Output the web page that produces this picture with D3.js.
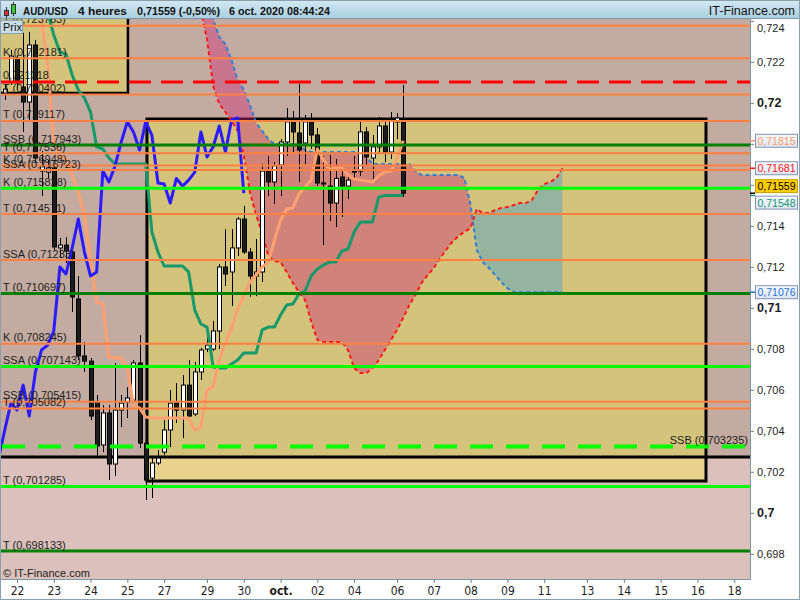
<!DOCTYPE html>
<html><head><meta charset="utf-8">
<script src="https://cdn.jsdelivr.net/npm/d3@7/dist/d3.min.js"></script>
<style>html,body{margin:0;padding:0;background:#fff;} svg{display:block;font-family:"Liberation Sans",Arial,sans-serif;}</style>
</head><body>
<svg id="chart" width="800" height="600"></svg>
<script>
// ---------- DATA ----------
const dayLabels    = ["21","22","23","24","25","27","28","29","30","oct.","02","04","05","06","07","08","09","11","12","13","14","15","16","18"];
const dayBarCounts = [6,6,6,6,6,1,6,6,6,6,6,1,6,6,6,6,6,1,6,6,6,6,6,1];
const hiddenDayLabels = ["21","28","05","12"];
const firstDayIndex = -6;

const yTicks = [0.698,0.700,0.702,0.704,0.706,0.708,0.710,0.712,0.714,0.716,0.718,0.720,0.722,0.724];

// candles: bar index starts at candleStart (bar 0 = 22 sept, first 4h bar)
const candleStart = -2;
const open  = [0.72048,0.72102,0.72214,0.72077,0.72004,0.72282,0.71667,0.71662,0.71682,0.71292,0.71306,0.71272,0.71043,0.70765,0.70740,0.70540,0.70331,0.70487,0.70238,0.70501,0.70540,0.70550,0.70731,0.70340,0.70169,0.70243,0.70296,0.70404,0.70535,0.70501,0.70623,0.70482,0.70687,0.70799,0.70799,0.70887,0.71199,0.71175,0.71292,0.71433,0.71272,0.71155,0.71175,0.71667,0.71614,0.71697,0.71809,0.71907,0.71853,0.71804,0.71907,0.71843,0.71609,0.71594,0.71511,0.71638,0.71594,0.71667,0.71667,0.71858,0.71731,0.71785,0.71887,0.71760,0.71907,0.71907];
const high  = [0.72087,0.72258,0.72233,0.72341,0.72346,0.72307,0.71765,0.71721,0.71697,0.71341,0.71345,0.71287,0.71155,0.70833,0.70755,0.70575,0.70526,0.70526,0.70731,0.70575,0.70613,0.70745,0.70867,0.70355,0.70272,0.70306,0.70452,0.70599,0.70633,0.70672,0.70745,0.70736,0.70804,0.70867,0.70936,0.71214,0.71384,0.71384,0.71443,0.71497,0.71292,0.71336,0.71702,0.71741,0.71711,0.71823,0.71975,0.71960,0.72092,0.71941,0.71950,0.71877,0.71741,0.71746,0.71726,0.71667,0.71648,0.71741,0.71907,0.71882,0.71843,0.71931,0.71926,0.71955,0.71950,0.72087];
const low   = [0.72014,0.72087,0.72063,0.71858,0.71907,0.71711,0.71545,0.71631,0.71282,0.71243,0.71219,0.70980,0.70745,0.70687,0.70452,0.70272,0.70296,0.70160,0.70179,0.70418,0.70462,0.70535,0.70316,0.70062,0.70072,0.70233,0.70282,0.70321,0.70438,0.70365,0.70462,0.70472,0.70648,0.70784,0.70789,0.70799,0.71106,0.71009,0.71253,0.71262,0.71053,0.71057,0.71126,0.71545,0.71506,0.71545,0.71741,0.71760,0.71614,0.71702,0.71775,0.71594,0.71306,0.71423,0.71394,0.71443,0.71531,0.71628,0.71643,0.71692,0.71628,0.71750,0.71711,0.71726,0.71823,0.71540];
const close = [0.72067,0.72228,0.72097,0.72004,0.72282,0.71731,0.71692,0.71682,0.71297,0.71306,0.71277,0.71053,0.70765,0.70740,0.70472,0.70326,0.70487,0.70238,0.70501,0.70535,0.70560,0.70731,0.70340,0.70160,0.70243,0.70267,0.70404,0.70535,0.70501,0.70623,0.70472,0.70687,0.70794,0.70818,0.70887,0.71199,0.71165,0.71292,0.71433,0.71272,0.71155,0.71175,0.71667,0.71614,0.71692,0.71809,0.71907,0.71858,0.71770,0.71907,0.71843,0.71609,0.71604,0.71511,0.71631,0.71594,0.71623,0.71662,0.71858,0.71736,0.71785,0.71887,0.71760,0.71916,0.71926,0.71559];

const tenkanStart = 3;
const tenkan = [0.72477,0.72409,0.72185,0.71819,0.71736,0.71731,0.71648,0.71565,0.71453,0.71223,0.71028,0.71019,0.70760,0.70755,0.70755,0.70706,0.70526,0.70511,0.70467,
  0.70462,0.70462,0.70462,0.70462,0.70462,0.70462,0.70462,
  0.70404,0.70418,0.70599,0.70613,0.70745,0.70828,0.70901,0.70994,0.71057,0.71126,0.71160,0.71199,0.71223,0.71331,0.71428,0.71482,0.71487,0.71555,0.71589,0.71623,0.71775,0.71721,0.71677,0.71682,0.71682,0.71648,0.71628,0.71623,0.71619,0.71614,0.71643,0.71662,0.71667,0.71726,0.71815];

const kijunStart = 4;
const kijun = [0.72502,0.72443,0.72331,0.72248,0.72238,0.72136,0.72063,0.72024,0.71955,0.71785,0.71775,0.71731,
  0.71702,0.71702,0.71702,0.71702,0.71702,0.71702,
  0.71370,0.71272,0.71204,0.71204,0.71204,0.71204,0.71175,
  0.70989,0.70921,0.70906,0.70711,0.70706,0.70706,0.70726,0.70745,
  0.70779,0.70779,0.70779,
  0.70892,0.70906,0.70906,0.70965,0.71014,0.71019,0.71067,0.71082,0.71155,0.71189,0.71209,0.71223,0.71223,0.71277,0.71287,0.71370,
  0.71419,0.71419,0.71419,0.71540,0.71548,0.71548,0.71548,0.71548];

const senkouStart = 30;
const senkouA = [0.72453,0.72311,0.72082,0.71994,0.71955,0.71911,0.71863,0.71746,0.71565,0.71453,0.71365,0.71253,0.71228,0.71223,0.71175,0.71121,0.71077,0.71038,0.70931,0.70843,
  0.70833,0.70833,0.70833,0.70833,
  0.70794,0.70706,0.70682,0.70682,0.70706,0.70745,0.70794,0.70843,0.70892,0.70950,0.71014,0.71062,0.71121,0.71160,0.71194,0.71243,0.71282,0.71321,0.71350,0.71370,0.71389,0.71482,0.71462,0.71462,0.71477,0.71487,0.71492,0.71501,0.71511,0.71511,0.71526,0.71575,0.71604,0.71614,0.71633,0.71681];
const senkouB = [0.72550,0.72477,0.72409,0.72321,0.72287,0.72209,0.72111,0.72063,0.71989,0.71902,0.71863,0.71823,
  0.71799,0.71799,0.71799,0.71799,0.71799,0.71770,
  0.71760,0.71760,0.71760,0.71760,0.71760,0.71760,0.71760,0.71760,0.71760,0.71736,
  0.71702,0.71702,0.71702,0.71702,0.71702,0.71702,0.71702,0.71667,
  0.71648,0.71648,0.71648,0.71648,0.71648,0.71648,0.71648,0.71633,
  0.71501,0.71282,0.71223,0.71194,0.71160,0.71126,0.71096,
  0.71076,0.71076,0.71076,0.71076,0.71076,0.71076,0.71076,0.71076,0.71076];

// horizontal levels
const levelValues = [0.723763,0.722181,0.721018,0.720402,0.719117,0.717943,0.717536,0.716948,0.716723,0.715828,0.714571,0.71233,0.710697,0.708245,0.707143,0.705415,0.705082,0.703235,0.701285,0.698133];
const levelLabels = ["T (0,723763)","K (0,722181)","0,721018","T (0,720402)","T (0,719117)","SSB (0,717943)","T (0,717536)","K (0,716948)","SSA (0,716723)","K (0,715828)","T (0,714571)","SSA (0,71233)","T (0,710697)","K (0,708245)","SSA (0,707143)","SSB (0,705415)","T (0,705082)","SSB (0,703235)","T (0,701285)","T (0,698133)"];
const levelKinds  = ["orange","orange","reddash","orange","orange","dkgreen","orange","orange","orange","green","orange","orange","dkgreen","orange","green","orange","orange","greendash","green","dkgreen"];

// drawn zones (bar index / price anchors)
const zoneTopLeft = {i1: 18.1, p0: 0.72048};
const zoneBox = {i0: 21.2, i1: 112.4, p0: 0.70155, p1: 0.71921};
const zoneUpperBottom = 0.70272;

// right axis value boxes
const boxValues = [0.71815,0.71681,0.71559,0.71548,0.71076];
const boxTextColors = ["#ff9a66","#ff1010","#000000","#13936b","#1f73d6"];
const boxFills = ["light","light","gold","light","light"];

// ---------- CHART ----------
const PL=0, PR=750, PT=19, PB=579;
const svg = d3.select("#chart");
const x = d3.scaleLinear().domain([-2.773, 119.58]).range([PL, PR]);
const y = d3.scaleLinear().domain([0.69677, 0.72409]).range([PB, PT]);

const defs = svg.append("defs");
defs.append("clipPath").attr("id","plotclip").append("rect").attr("x",PL).attr("y",PT).attr("width",PR-PL).attr("height",PB-PT);
const tg = defs.append("linearGradient").attr("id","titlegrad").attr("x1",0).attr("x2",0).attr("y1",0).attr("y2",1);
tg.append("stop").attr("offset","0%").attr("stop-color","#d4e9f3");
tg.append("stop").attr("offset","100%").attr("stop-color","#a8cee1");
const bg = defs.append("linearGradient").attr("id","boxgrad").attr("x1",0).attr("x2",0).attr("y1",0).attr("y2",1);
bg.append("stop").attr("offset","0%").attr("stop-color","#f7f9fd");
bg.append("stop").attr("offset","100%").attr("stop-color","#dde5f2");

svg.append("rect").attr("width",800).attr("height",600).attr("fill","#ffffff");

const g = svg.append("g").attr("clip-path","url(#plotclip)");
// backgrounds
g.append("rect").attr("x",PL).attr("y",PT).attr("width",PR-PL).attr("height",PB-PT).attr("fill","#dbc0bb");
g.append("rect").attr("x",PL).attr("y",PT).attr("width",PR-PL).attr("height",y(zoneUpperBottom)-PT).attr("fill","#c4aba1");
g.append("rect").attr("x",PL).attr("y",PT).attr("width",x(zoneTopLeft.i1)-PL).attr("height",y(zoneTopLeft.p0)-PT).attr("fill","#d3c37b");
g.append("rect").attr("x",x(zoneBox.i0)).attr("y",y(zoneBox.p1)).attr("width",x(zoneBox.i1)-x(zoneBox.i0)).attr("height",y(zoneUpperBottom)-y(zoneBox.p1)).attr("fill","#d3c37b");
g.append("rect").attr("x",x(zoneBox.i0)).attr("y",y(zoneUpperBottom)).attr("width",x(zoneBox.i1)-x(zoneBox.i0)).attr("height",y(zoneBox.p0)-y(zoneUpperBottom)).attr("fill","#e9d28b");

// borders
g.append("line").attr("x1",PL).attr("x2",PR).attr("y1",y(zoneUpperBottom)).attr("y2",y(zoneUpperBottom)).attr("stroke","#000").attr("stroke-width",3);
g.append("path").attr("d",`M${PL-5},${y(zoneTopLeft.p0)}H${x(zoneTopLeft.i1)}V${PT-5}`).attr("fill","none").attr("stroke","#000").attr("stroke-width",2.5);
g.append("rect").attr("x",x(zoneBox.i0)).attr("y",y(zoneBox.p1)).attr("width",x(zoneBox.i1)-x(zoneBox.i0)).attr("height",y(zoneBox.p0)-y(zoneBox.p1)).attr("fill","none").attr("stroke","#000").attr("stroke-width",3);

// cloud
const cloud = senkouA.map((a,k)=>({i: senkouStart+k, a, b: senkouB[k]}));
const areaAB = d3.area().x(d=>x(d.i)).y0(d=>y(d.a)).y1(d=>y(d.b));
const aboveA = d3.area().x(d=>x(d.i)).y0(d=>y(d.a)).y1(()=>-50);
const belowA = d3.area().x(d=>x(d.i)).y0(d=>y(d.a)).y1(()=>700);
defs.append("clipPath").attr("id","clipAbove").append("path").attr("d",aboveA(cloud));
defs.append("clipPath").attr("id","clipBelow").append("path").attr("d",belowA(cloud));
g.append("path").attr("d",areaAB(cloud)).attr("fill","rgba(208,44,118,0.42)").attr("clip-path","url(#clipAbove)");
g.append("path").attr("d",areaAB(cloud)).attr("fill","rgba(85,165,198,0.5)").attr("clip-path","url(#clipBelow)");
const lineA = d3.line().x(d=>x(d.i)).y(d=>y(d.a));
const lineB = d3.line().x(d=>x(d.i)).y(d=>y(d.b));
g.append("path").attr("d",lineB(cloud)).attr("fill","none").attr("stroke","#2f7fd8").attr("stroke-width",2).attr("stroke-dasharray","4,3");
g.append("path").attr("d",lineA(cloud)).attr("fill","none").attr("stroke","#ff1a1a").attr("stroke-width",2).attr("stroke-dasharray","4,3");

// candles
const candles = open.map((o,k)=>({i: candleStart+k, o, h: high[k], l: low[k], c: close[k]}));
const cg = g.append("g");
cg.selectAll("line.w").data(candles).join("line").attr("class","w")
  .attr("x1",d=>Math.round(x(d.i))+0.5).attr("x2",d=>Math.round(x(d.i))+0.5)
  .attr("y1",d=>y(d.h)).attr("y2",d=>y(d.l)).attr("stroke","#000").attr("stroke-width",1);
cg.selectAll("rect.b").data(candles).join("rect").attr("class","b")
  .attr("x",d=>Math.round(x(d.i))-1.5).attr("width",4)
  .attr("y",d=>y(Math.max(d.o,d.c)))
  .attr("height",d=>Math.max(1, y(Math.min(d.o,d.c))-y(Math.max(d.o,d.c))))
  .attr("fill",d=>d.c>=d.o?"#ffffff":"#1c1c1c").attr("stroke","#000").attr("stroke-width",1);

// indicator lines
const ln = d3.line().x(d=>x(d.i)).y(d=>y(d.v));
const kij = kijun.map((v,k)=>({i:kijunStart+k, v}));
const ten = tenkan.map((v,k)=>({i:tenkanStart+k, v}));
const chi = close.map((v,k)=>({i:candleStart+k-26, v}));
g.append("path").attr("d",ln(kij)).attr("fill","none").attr("stroke","#17996b").attr("stroke-width",3).attr("stroke-linejoin","round");
g.append("path").attr("d",ln(ten)).attr("fill","none").attr("stroke","#ffa070").attr("stroke-width",3).attr("stroke-linejoin","round");
g.append("path").attr("d",ln(chi)).attr("fill","none").attr("stroke","#2a1cff").attr("stroke-width",3).attr("stroke-linejoin","round");

// horizontal levels
const styles = {
  orange:{c:"#ff8040", w:2},
  dkgreen:{c:"#008000", w:3},
  green:{c:"#00ff00", w:3},
  reddash:{c:"#ff0000", w:3, d:"22,10", x0:1},
  greendash:{c:"#00ff00", w:4, d:"23,13", x0:2}
};
const levels = levelValues.map((v,k)=>({v, label: levelLabels[k], kind: levelKinds[k]}));
g.selectAll("line.lv").data(levels).join("line").attr("class","lv")
  .attr("x1",d=>styles[d.kind].x0||PL).attr("x2",PR)
  .attr("y1",d=>y(d.v)).attr("y2",d=>y(d.v))
  .attr("stroke",d=>styles[d.kind].c).attr("stroke-width",d=>styles[d.kind].w)
  .attr("stroke-dasharray",d=>styles[d.kind].d||null);
g.selectAll("text.lv").data(levels).join("text").attr("class","lv")
  .attr("x",d=>d.kind==="greendash"?PR-2:3)
  .attr("text-anchor",d=>d.kind==="greendash"?"end":"start")
  .attr("y",d=>y(d.v)-2.5)
  .attr("font-size",11).attr("fill","#1e1e1e").text(d=>d.label);

// copyright
g.append("text").attr("x",3).attr("y",577).attr("font-size",11).attr("fill","#1e1e1e").text("© IT-Finance.com");

// ---------- AXES ----------
svg.append("line").attr("x1",PR+0.5).attr("x2",PR+0.5).attr("y1",PT).attr("y2",PB+1).attr("stroke","#7d98a9");
svg.append("line").attr("x1",PL).attr("x2",PR+1).attr("y1",PB+0.5).attr("y2",PB+0.5).attr("stroke","#7d98a9");

// value boxes positions (computed first so covered tick labels are not drawn)
const boxes = boxValues.map((v,k)=>({v, cy: y(v), col: boxTextColors[k], fill: boxFills[k]}));
const sorted = boxes.slice().sort((a,b)=>a.cy-b.cy);
for (let it=0; it<30; it++) {
  for (let k=1;k<sorted.length;k++){
    const gap = sorted[k].cy - sorted[k-1].cy;
    if (gap < 16.5) { const s=(16.5-gap)/2; sorted[k].cy+=s; sorted[k-1].cy-=s; }
  }
}
const covered = t => boxes.some(b => Math.abs(b.cy - y(t)) < 11);

const fmtAxis = v => v.toFixed(3).replace(/0+$/,"").replace(/\.$/,"").replace(".",",");
const ra = svg.append("g").attr("transform",`translate(${PR},0)`)
  .call(d3.axisRight(y).tickValues(yTicks).tickSize(4).tickFormat(fmtAxis));
ra.select(".domain").remove();
ra.selectAll(".tick line").attr("stroke","#6a7f8d");
ra.selectAll(".tick text").filter(d=>covered(d)).remove();
ra.selectAll(".tick text").attr("x",7).attr("fill","#1e1e1e")
  .attr("font-family","'Liberation Sans',Arial,sans-serif")
  .attr("font-size",d=>fmtAxis(d).length<=4?12.5:11)
  .attr("font-weight",d=>fmtAxis(d).length<=4?"bold":"normal")
  .attr("dy",d=>y(d)<26?"0.95em":"0.32em");

const bx = svg.append("g");
bx.selectAll("line").data(boxes).join("line")
  .attr("x1",PR).attr("x2",PR+5).attr("y1",d=>y(d.v)).attr("y2",d=>y(d.v))
  .attr("stroke",d=>d.col).attr("stroke-width",1.5);
bx.selectAll("rect").data(boxes).join("rect")
  .attr("x",PR+5.5).attr("width",42).attr("y",d=>d.cy-6.5).attr("height",13)
  .attr("fill",d=>d.fill==="gold"?"#ffcc00":"url(#boxgrad)")
  .attr("stroke",d=>d.fill==="gold"?"#c9a200":"#8193b5").attr("stroke-width",1);
bx.selectAll("text").data(boxes).join("text")
  .attr("x",PR+7.5).attr("y",d=>d.cy).attr("dy","0.36em")
  .attr("font-size",11).attr("fill",d=>d.col)
  .attr("textLength",38).attr("lengthAdjust","spacingAndGlyphs")
  .text(d=>d.v.toFixed(5).replace(".",","));

// bottom axis
const days = [];
let start = firstDayIndex;
dayLabels.forEach((l,k)=>{ days.push({label:l, i:start}); start += dayBarCounts[k]; });
const shown = days.filter(d=>!hiddenDayLabels.includes(d.label));
const ba = svg.append("g").attr("transform",`translate(0,${PB})`)
  .call(d3.axisBottom(x).tickValues(shown.map(d=>d.i)).tickSize(4).tickFormat((d,k)=>shown[k].label));
ba.select(".domain").remove();
ba.selectAll(".tick line").attr("stroke","#6a7f8d");
ba.selectAll(".tick text").attr("fill","#1e1e1e")
  .attr("font-family","'Liberation Sans Narrow','Arial Narrow','DejaVu Sans Condensed',sans-serif")
  .attr("font-size",12)
  .attr("font-weight",(d,k)=>shown[k].label==="oct."?"bold":"normal");

// ---------- TITLE ----------
svg.append("rect").attr("x",0).attr("y",0).attr("width",800).attr("height",PT).attr("fill","url(#titlegrad)");
svg.append("line").attr("x1",0).attr("x2",800).attr("y1",PT-0.5).attr("y2",PT-0.5).attr("stroke","#7d98a9");
svg.append("line").attr("x1",6.5).attr("x2",6.5).attr("y1",7).attr("y2",18).attr("stroke","#333");
svg.append("rect").attr("x",4.5).attr("y",10.5).attr("width",4).attr("height",5).attr("fill","#e03030").attr("stroke","#333");
svg.append("line").attr("x1",13.5).attr("x2",13.5).attr("y1",2).attr("y2",16).attr("stroke","#333");
svg.append("rect").attr("x",11.5).attr("y",4.5).attr("width",4).attr("height",9).attr("fill","#30d030").attr("stroke","#333");
const titleParts = [["AUD/USD",23,45],["4 heures",78,49],["0,71559 (-0,50%)",137,83],["6 oct. 2020 08:44:24",229,101]];
svg.selectAll("text.tt").data(titleParts).join("text").attr("class","tt")
  .attr("x",d=>d[1]).attr("y",15).attr("font-size",11.5).attr("font-weight","bold").attr("fill","#111")
  .attr("textLength",d=>d[2]).attr("lengthAdjust","spacingAndGlyphs").text(d=>d[0]);
svg.append("text").attr("x",795).attr("y",15).attr("text-anchor","end").attr("font-size",12.5).attr("fill","#111").text("IT-Finance.com");

// Prix button
svg.append("rect").attr("x",0.5).attr("y",20.5).attr("width",22).attr("height",13).attr("fill","#c9dde8").attr("stroke","#8aa3b3");
svg.append("text").attr("x",3).attr("y",31).attr("font-size",11).attr("fill","#111").text("Prix");

svg.append("rect").attr("x",0.5).attr("y",0.5).attr("width",799).attr("height",599).attr("fill","none").attr("stroke","#8aa0ae");
</script>
</body></html>
